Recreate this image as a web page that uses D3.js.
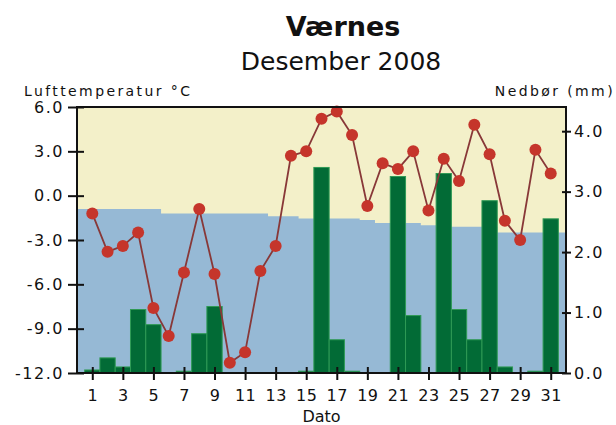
<!DOCTYPE html>
<html>
<head>
<meta charset="utf-8">
<style>
     body {
          margin: 0;
          background: white;
          font-family: "DejaVu Sans";
     }
     .axis text {
          font-family: "DejaVu Sans";
          font-size: 16px;
          letter-spacing: 1.5px;
          fill: #111;
     }
     .axis line {
          stroke: #111;
          stroke-width: 2px;
     }
     .title {
          font-size: 27px;
          font-weight: bold;
          text-anchor: middle;
          fill: #111;
     }
     .subtitle {
          font-size: 25px;
          text-anchor: middle;
          fill: #111;
     }
     .axis-label {
          font-size: 14px;
          letter-spacing: 2.4px;
          fill: #111;
     }
</style>
</head>
<body>
<script src="https://d3js.org/d3.v7.min.js"></script>
<script>

     // Dager i desember 2008
     var days = d3.range(1, 32);

     // Lufttemperatur (°C), dagsmiddel
     var temperature = [-1.2, -3.8, -3.4, -2.5, -7.6, -9.5, -5.2, -0.9, -5.3, -11.3,
                        -10.6, -5.1, -3.4, 2.7, 3.0, 5.2, 5.7, 4.1, -0.7, 2.2,
                        1.8, 3.0, -1.0, 2.5, 1.0, 4.8, 2.8, -1.7, -3.0, 3.1, 1.5];

     // Normaltemperatur (°C)
     var normal = [-0.9, -0.9, -0.9, -0.9, -0.9, -1.2, -1.2, -1.2, -1.2, -1.2,
                   -1.2, -1.2, -1.4, -1.4, -1.55, -1.55, -1.55, -1.55, -1.65, -1.85,
                   -1.85, -1.85, -2.0, -2.1, -2.1, -2.1, -2.1, -2.5, -2.5, -2.5, -2.5];

     // Nedbør (mm)
     var precipitation = [0.05, 0.25, 0.1, 1.05, 0.8, 0, 0.03, 0.65, 1.1, 0,
                          0, 0, 0, 0, 0.03, 3.4, 0.55, 0.03, 0, 0,
                          3.25, 0.95, 0, 3.3, 1.05, 0.55, 2.85, 0.1, 0, 0.03, 2.55];

     var tempTicks = [-12, -9, -6, -3, 0, 3, 6];
     var precTicks = [0, 1, 2, 3, 4];
     var dayTicks = d3.range(1, 32, 2);

     var W = 616, H = 425;
     var margin = {top: 107, right: 50, bottom: 52, left: 77};
     var plotW = W - margin.left - margin.right,
         plotH = H - margin.top - margin.bottom;

     var x = d3.scaleLinear().domain([0, 32]).range([0, plotW]);
     var yT = d3.scaleLinear().domain([-12, 6]).range([plotH, 0]);
     var yP = d3.scaleLinear().domain([0, 4.4]).range([plotH, 0]);

     var svg = d3.select("body").append("svg")
          .attr("width", W)
          .attr("height", H);

     svg.append("text")
          .attr("class", "title")
          .attr("x", 343)
          .attr("y", 36)
          .text("Værnes");

     svg.append("text")
          .attr("class", "subtitle")
          .attr("x", 341)
          .attr("y", 70)
          .text("Desember 2008");

     svg.append("text")
          .attr("class", "axis-label")
          .attr("x", 24)
          .attr("y", 96)
          .text("Lufttemperatur °C");

     svg.append("text")
          .attr("class", "axis-label")
          .attr("x", 615)
          .attr("y", 96)
          .attr("text-anchor", "end")
          .text("Nedbør (mm)");

     var g = svg.append("g")
          .attr("transform", "translate(" + margin.left + "," + margin.top + ")");

     // bakgrunn: over normalen gul, under normalen blå
     g.append("rect")
          .attr("width", plotW)
          .attr("height", plotH)
          .attr("fill", "#f3f0c9");

     var normalPts = [{day: 0, t: normal[0]}]
          .concat(days.map(function(d, i) { return {day: d, t: normal[i]}; }))
          .concat([{day: 32, t: normal[normal.length - 1]}]);

     var area = d3.area()
          .curve(d3.curveStep)
          .x(function(d) { return x(d.day); })
          .y0(plotH)
          .y1(function(d) { return yT(d.t); });

     g.append("path")
          .datum(normalPts)
          .attr("d", area)
          .attr("fill", "#96b9d5");

     // nedbørsøyler
     var barW = x(1) - x(0);
     g.selectAll(".bar")
          .data(days.filter(function(d, i) { return precipitation[i] > 0; }))
       .enter().append("rect")
          .attr("class", "bar")
          .attr("x", function(d) { return x(d - 0.5); })
          .attr("width", barW)
          .attr("y", function(d) { return yP(precipitation[d - 1]); })
          .attr("height", function(d) { return plotH - yP(precipitation[d - 1]); })
          .attr("fill", "#026b36")
          .attr("stroke", "#2f9a55")
          .attr("stroke-width", 1);

     // temperaturkurve
     var line = d3.line()
          .x(function(d) { return x(d); })
          .y(function(d) { return yT(temperature[d - 1]); });

     g.append("path")
          .datum(days)
          .attr("d", line)
          .attr("fill", "none")
          .attr("stroke", "#883838")
          .attr("stroke-width", 1.8);

     g.selectAll(".dot")
          .data(days)
       .enter().append("circle")
          .attr("class", "dot")
          .attr("cx", function(d) { return x(d); })
          .attr("cy", function(d) { return yT(temperature[d - 1]); })
          .attr("r", 6)
          .attr("fill", "#c5352b");

     // ramme
     g.append("rect")
          .attr("width", plotW)
          .attr("height", plotH)
          .attr("fill", "none")
          .attr("stroke", "#111")
          .attr("stroke-width", 2);

     // akser
     var fmt = function(d) { return d.toFixed(1); };

     var leftAxis = g.append("g")
          .attr("class", "axis")
          .call(d3.axisLeft(yT).tickValues(tempTicks).tickFormat(fmt).tickSize(9).tickPadding(4));
     leftAxis.select(".domain").remove();
     leftAxis.selectAll(".tick line").attr("x2", -9).attr("x1", 7);

     var rightAxis = g.append("g")
          .attr("class", "axis")
          .attr("transform", "translate(" + plotW + ",0)")
          .call(d3.axisRight(yP).tickValues(precTicks).tickFormat(fmt).tickSize(5).tickPadding(3));
     rightAxis.select(".domain").remove();
     rightAxis.selectAll(".tick line").attr("x1", -4);

     var bottomAxis = g.append("g")
          .attr("class", "axis")
          .attr("transform", "translate(0," + plotH + ")")
          .call(d3.axisBottom(x).tickValues(dayTicks).tickFormat(d3.format("d")).tickSize(7).tickPadding(10));
     bottomAxis.select(".domain").remove();
     bottomAxis.selectAll(".tick line").attr("y1", -6);
     bottomAxis.selectAll("text").style("letter-spacing", "0.5px");

     svg.append("text")
          .attr("x", margin.left + plotW / 2)
          .attr("y", 422)
          .attr("text-anchor", "middle")
          .style("font-size", "16px")
          .attr("fill", "#111")
          .text("Dato");

</script>
</body>
</html>
